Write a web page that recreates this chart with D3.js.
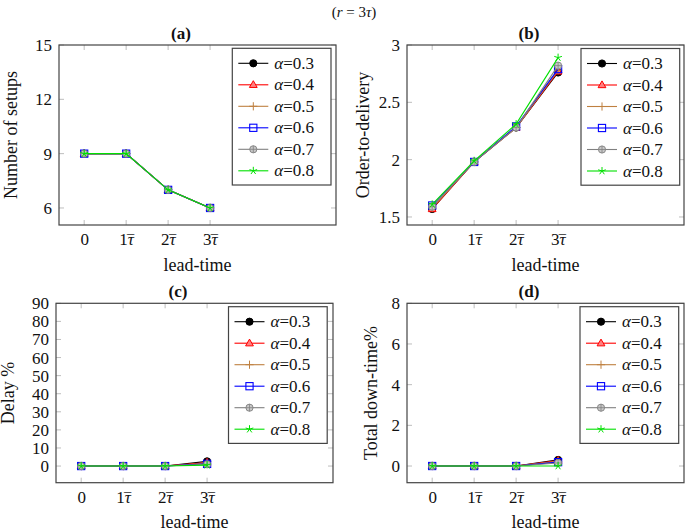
<!DOCTYPE html>
<html><head><meta charset="utf-8">
<script src="https://cdn.jsdelivr.net/npm/d3@7"></script>
<style>
html,body{margin:0;padding:0;background:#fff;}
svg{display:block;}
svg text{font-family:"Liberation Serif","DejaVu Serif",serif;fill:#111;}
</style></head>
<body><svg id="chart" width="685" height="530"></svg>
<script>
// ---------------- data ----------------
const leadTimes = [0, 1, 2, 3];
const tickLabels = ["0", "1τ", "2τ", "3τ"];
const alphas = ["0.3", "0.4", "0.5", "0.6", "0.7", "0.8"];

const setups = [
  [9, 9, 7, 6],
  [9, 9, 7, 6],
  [9, 9, 7, 6],
  [9, 9, 7, 6],
  [9, 9, 7, 6],
  [9, 9, 7, 6]
];
const orderToDelivery = [
  [1.57, 1.98, 2.28, 2.76],
  [1.57, 1.98, 2.28, 2.77],
  [1.58, 1.98, 2.28, 2.78],
  [1.60, 1.98, 2.29, 2.79],
  [1.59, 1.98, 2.28, 2.82],
  [1.61, 1.99, 2.31, 2.89]
];
const delay = [
  [0, 0, 0, 2.6],
  [0, 0, 0, 2.0],
  [0, 0, 0, 1.5],
  [0, 0, 0, 1.2],
  [0, 0, 0, 1.0],
  [0, 0, 0, 0.5]
];
const downTime = [
  [0, 0, 0, 0.30],
  [0, 0, 0, 0.27],
  [0, 0, 0, 0.23],
  [0, 0, 0, 0.19],
  [0, 0, 0, 0.15],
  [0, 0, 0, 0.00]
];
const yTicksA = [6, 9, 12, 15];
const yTicksB = [1.5, 2, 2.5, 3];
const yTicksC = [0, 10, 20, 30, 40, 50, 60, 70, 80, 90];
const yTicksD = [0, 2, 4, 6, 8];

// ---------------- styles ----------------
const FONT = '"Liberation Serif","DejaVu Serif",serif';
const seriesColors = ["#000000", "#ff0000", "#bf8040", "#0000ff", "#808080", "#00e000"];
const seriesMarks = ["circle", "triangle", "plus", "square", "oplus", "star"];

const svg = d3.select("#chart");

svg.append("text").attr("x", 354).attr("y", 17).attr("text-anchor", "middle")
  .attr("font-family", FONT).style("font-size", "15px")
  .call(t => {
    t.append("tspan").text("(");
    t.append("tspan").style("font-style", "italic").text("r");
    t.append("tspan").text(" = 3");
    t.append("tspan").style("font-style", "italic").text("τ");
    t.append("tspan").text(")");
  });

function drawMark(g, type, color) {
  const s = 3.6;
  if (type === "circle") {
    g.append("circle").attr("r", s).attr("fill", color).attr("stroke", color);
  } else if (type === "triangle") {
    const h = 4.1;
    g.append("path").attr("d", `M0,${-h}L${h*0.95},${h*0.65}L${-h*0.95},${h*0.65}Z`)
      .attr("fill", "#ff8080").attr("stroke", color).attr("stroke-width", 1);
  } else if (type === "plus") {
    g.append("path").attr("d", `M${-s-0.5},0H${s+0.5}M0,${-s-0.5}V${s+0.5}`)
      .attr("stroke", color).attr("stroke-width", 1);
  } else if (type === "square") {
    g.append("rect").attr("x", -s).attr("y", -s).attr("width", 2*s).attr("height", 2*s)
      .attr("fill", "none").attr("stroke", color).attr("stroke-width", 1.1);
  } else if (type === "oplus") {
    g.append("circle").attr("r", s).attr("fill", "#c8c8c8").attr("stroke", color).attr("stroke-width", 0.9);
    g.append("path").attr("d", `M${-s},0H${s}M0,${-s}V${s}`).attr("stroke", color).attr("stroke-width", 0.8);
  } else if (type === "star") {
    let d = "";
    for (let k = 0; k < 5; k++) {
      const a = -Math.PI/2 + k * 2*Math.PI/5;
      d += `M0,0L${(s+0.4)*Math.cos(a)},${(s+0.4)*Math.sin(a)}`;
    }
    g.append("path").attr("d", d).attr("stroke", color).attr("stroke-width", 1);
  }
}

function tickLabel(t, lab) {
  t.append("tspan").text(lab.charAt(0));
  if (lab.length > 1) {
    t.append("tspan").style("font-style", "italic").text(lab.slice(1));
    t.append("tspan").attr("dx", "-0.47em").attr("dy", "0.02em").style("font-size", "0.85em").text("¯");
  }
}

const panels = [
  {title: "(a)", data: setups, yTicks: yTicksA, yDom: [5.06, 15], ylabel: "Number of setups",
   left: 59, right: 336, top: 45, bottom: 225, ylabX: 17, legX: 232.3, legY: 48.3},
  {title: "(b)", data: orderToDelivery, yTicks: yTicksB, yDom: [1.43, 3], ylabel: "Order-to-delivery",
   left: 407, right: 684, top: 45, bottom: 225, ylabX: 369, legX: 581, legY: 48.5},
  {title: "(c)", data: delay, yTicks: yTicksC, yDom: [-9.2, 90], ylabel: "Delay %",
   left: 56, right: 333, top: 303.3, bottom: 482.7, ylabX: 14, legX: 228.5, legY: 306.7},
  {title: "(d)", data: downTime, yTicks: yTicksD, yDom: [-0.82, 8], ylabel: "Total down-time%",
   left: 407, right: 684, top: 303.3, bottom: 482.7, ylabX: 377, legX: 580, legY: 306.7}
];

panels.forEach((p, pi) => {
  const x = d3.scaleLinear().domain([-0.6, 6.0]).range([p.left, p.right]);
  const y = d3.scaleLinear().domain(p.yDom).range([p.bottom, p.top]);
  const g = svg.append("g");

  // inward ticks on all four sides (gray)
  const tk = g.append("g").attr("stroke", "#bdbdbd").attr("stroke-width", 1);
  leadTimes.forEach(v => {
    tk.append("line").attr("x1", x(v)).attr("x2", x(v)).attr("y1", p.bottom).attr("y2", p.bottom - 5);
    tk.append("line").attr("x1", x(v)).attr("x2", x(v)).attr("y1", p.top).attr("y2", p.top + 5);
  });
  p.yTicks.forEach(v => {
    tk.append("line").attr("x1", p.left).attr("x2", p.left + 5).attr("y1", y(v)).attr("y2", y(v));
    tk.append("line").attr("x1", p.right).attr("x2", p.right - 5).attr("y1", y(v)).attr("y2", y(v));
  });

  // axes through d3
  const xAxis = d3.axisBottom(x).tickValues(leadTimes).tickSize(0).tickPadding(0)
    .tickFormat(() => "");
  const xa = g.append("g").attr("transform", `translate(0,${p.bottom})`).call(xAxis);
  xa.attr("font-family", FONT);
  xa.select(".domain").remove();
  xa.selectAll(".tick text").remove();
  xa.selectAll(".tick").append("text").attr("y", 20).attr("text-anchor", "middle")
    .attr("font-family", FONT).style("font-size", "17px").attr("fill", "#111")
    .each(function(d, i) { tickLabel(d3.select(this), tickLabels[i]); });

  const yAxis = d3.axisLeft(y).tickValues(p.yTicks).tickSize(0).tickPadding(7)
    .tickFormat(d3.format("~g"));
  const ya = g.append("g").attr("transform", `translate(${p.left},0)`).call(yAxis);
  ya.attr("font-family", FONT);
  ya.select(".domain").remove();
  ya.selectAll(".tick text").attr("font-family", FONT).style("font-size", "17px").attr("fill", "#111");

  // series
  p.data.forEach((vals, si) => {
    const line = d3.line().x((d, i) => x(leadTimes[i])).y(d => y(d));
    g.append("path").datum(vals).attr("d", line).attr("fill", "none")
      .attr("stroke", seriesColors[si]).attr("stroke-width", 1.1);
    vals.forEach((v, i) => {
      const mg = g.append("g").attr("transform", `translate(${x(leadTimes[i])},${y(v)})`);
      drawMark(mg, seriesMarks[si], seriesColors[si]);
    });
  });

  // frame
  g.append("rect").attr("x", p.left).attr("y", p.top)
    .attr("width", p.right - p.left).attr("height", p.bottom - p.top)
    .attr("fill", "none").attr("stroke", "#444").attr("stroke-width", 1.2);

  // title
  g.append("text").attr("x", p.left + 122).attr("y", p.top - 6).attr("text-anchor", "middle")
    .attr("font-family", FONT).style("font-size", "17px").style("font-weight", "bold").text(p.title);

  // y label
  g.append("text").attr("transform", `translate(${p.ylabX},${(p.top + p.bottom)/2}) rotate(-90)`)
    .attr("font-family", FONT)
    .attr("text-anchor", "middle").style("font-size", "18px").text(p.ylabel);

  // x label
  g.append("text").attr("x", (p.left + p.right)/2).attr("y", p.bottom + (pi < 2 ? 46 : 45))
    .attr("font-family", FONT)
    .attr("text-anchor", "middle").style("font-size", "18px").text("lead-time");

  // legend
  const lw = 98.7, lh = 136.7;
  const lg = g.append("g").attr("transform", `translate(${p.legX},${p.legY})`);
  lg.append("rect").attr("width", lw).attr("height", lh).attr("fill", "#fff")
    .attr("stroke", "#444").attr("stroke-width", 1.2);
  alphas.forEach((a, si) => {
    const ry = 15 + si * 21.5;
    lg.append("line").attr("x1", 6).attr("x2", 36).attr("y1", ry).attr("y2", ry)
      .attr("stroke", seriesColors[si]).attr("stroke-width", 1.1);
    const mg = lg.append("g").attr("transform", `translate(21,${ry})`);
    drawMark(mg, seriesMarks[si], seriesColors[si]);
    const t = lg.append("text").attr("x", 42).attr("y", ry + 5.5)
      .attr("font-family", FONT).style("font-size", "17px");
    t.append("tspan").style("font-style", "italic").text("α");
    t.append("tspan").text("=" + a);
  });
});
</script>
</body></html>
